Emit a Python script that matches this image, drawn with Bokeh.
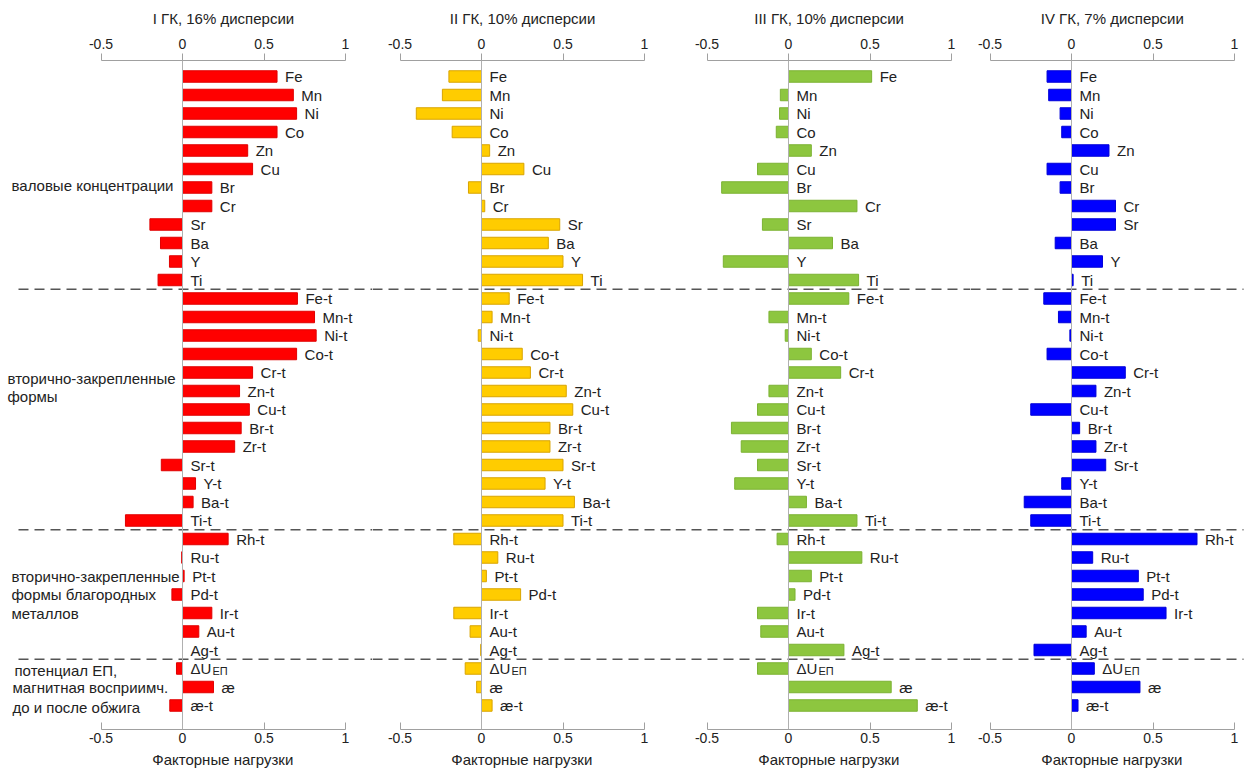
import numpy as np
from bokeh.plotting import figure
from bokeh.layouts import row
from bokeh.models import (Range1d, LinearAxis, FixedTicker, CustomJSTickFormatter,
                          Span, ColumnDataSource, Title)
from bokeh.core.properties import value
from bokeh.embed import file_html
from bokeh.resources import INLINE

# ---------------- data ----------------
categories = ["Fe", "Mn", "Ni", "Co", "Zn", "Cu", "Br", "Cr", "Sr", "Ba", "Y", "Ti",
              "Fe-t", "Mn-t", "Ni-t", "Co-t", "Cr-t", "Zn-t", "Cu-t", "Br-t", "Zr-t",
              "Sr-t", "Y-t", "Ba-t", "Ti-t",
              "Rh-t", "Ru-t", "Pt-t", "Pd-t", "Ir-t", "Au-t", "Ag-t",
              "ΔU", "æ", "æ-t"]
subscripts = {"ΔU": "ЕП"}
group_sizes = [12, 13, 7, 3]
group_labels = [["валовые концентрации"],
                ["вторично-закрепленные", "формы"],
                ["вторично-закрепленные", "формы благородных", "металлов"],
                [" потенциал ЕП,", "магнитная восприимч.", "до и после обжига"]]
titles = ["I ГК, 16% дисперсии", "II ГК, 10% дисперсии",
          "III ГК, 10% дисперсии", "IV ГК, 7% дисперсии"]
x_label = "Факторные нагрузки"
tick_values = [-0.5, 0, 0.5, 1]

loadings_1 = [0.58, 0.68, 0.70, 0.58, 0.40, 0.43, 0.18, 0.18, -0.20, -0.135, -0.08, -0.15,
              0.705, 0.81, 0.82, 0.70, 0.43, 0.35, 0.41, 0.36, 0.32, -0.13, 0.08, 0.065, -0.35,
              0.28, -0.005, 0.01, -0.065, 0.18, 0.10, 0.0,
              -0.037, 0.19, -0.078]
loadings_2 = [-0.20, -0.24, -0.40, -0.18, 0.05, 0.26, -0.08, 0.02, 0.48, 0.41, 0.50, 0.62,
              0.17, 0.065, -0.02, 0.25, 0.30, 0.52, 0.56, 0.42, 0.42, 0.50, 0.39, 0.57, 0.50,
              -0.17, 0.10, 0.03, 0.24, -0.17, -0.07, -0.005,
              -0.10, -0.03, 0.065]
loadings_3 = [0.51, -0.05, -0.055, -0.075, 0.14, -0.19, -0.41, 0.42, -0.16, 0.27, -0.40, 0.43,
              0.37, -0.12, -0.02, 0.14, 0.32, -0.12, -0.19, -0.35, -0.29, -0.19, -0.33, 0.11, 0.42,
              -0.07, 0.45, 0.14, 0.04, -0.19, -0.17, 0.34,
              -0.19, 0.63, 0.79]
loadings_4 = [-0.15, -0.14, -0.07, -0.06, 0.23, -0.15, -0.07, 0.27, 0.27, -0.10, 0.19, 0.01,
              -0.17, -0.08, -0.01, -0.15, 0.33, 0.15, -0.25, 0.05, 0.15, 0.21, -0.06, -0.29, -0.25,
              0.77, 0.13, 0.41, 0.44, 0.58, 0.09, -0.23,
              0.14, 0.42, 0.04]
loadings = [loadings_1, loadings_2, loadings_3, loadings_4]
fill_colors = ["#ff0000", "#ffcc00", "#8dc63f", "#0000ff"]
line_colors = ["#e00000", "#d9a400", "#7cb233", "#0000d8"]

# ---------------- layout constants ----------------
FONT = value("Liberation Sans")
PX = 163.0           # pixels per loading unit
ROW = 18.5           # pixels per row
zeros = [182, 481, 788, 1071]          # page x of zero in each panel
edges = [0, 372, 675, 970, 1245]       # page x of figure boundaries
title_widths = [141, 145, 150, 143]    # approx rendered widths (px) for centring
xlabel_width = 142
dash_start, dash_end = 18, 1243
frame_top = 60
frame_h = 669
y_top = -16.0 / ROW
y_bot = y_top + frame_h / ROW
rows = np.arange(len(categories))
seps = np.cumsum(group_sizes)[:-1] - 0.5
label_rows = [[5.9], [16.3, 17.3], [27.0, 28.0, 29.0], [32.1, 33.05, 34.1]]
label_offsets = [[11], [7], [11], [14, 12, 12]]

fmt = CustomJSTickFormatter(code="return tick.toString();")

figs = []
for k in range(4):
    w = edges[k + 1] - edges[k]
    x0 = (edges[k] - zeros[k]) / PX
    x1 = (edges[k + 1] - zeros[k]) / PX
    p = figure(frame_width=w, frame_height=frame_h,
               x_range=Range1d(x0, x1), y_range=Range1d(y_bot, y_top),
               output_backend="svg", toolbar_location=None,
               x_axis_location=None, y_axis_location=None,
               min_border=0, min_border_top=frame_top,
               outline_line_color=None,
               background_fill_color="white", border_fill_color="white")
    p.grid.visible = False

    for loc in ("above", "below"):
        ax = LinearAxis(ticker=FixedTicker(ticks=tick_values), formatter=fmt,
                        bounds=(-0.5, 1))
        ax.axis_line_color = "#a0a0a0"
        ax.major_tick_line_color = "#a0a0a0"
        ax.minor_tick_line_color = None
        ax.major_label_text_font = "Liberation Sans"
        ax.major_label_text_font_size = "14px"
        ax.major_label_text_color = "#222222"
        if loc == "above":
            ax.major_tick_out = 7
            ax.major_tick_in = 0
            ax.major_label_standoff = 5
        else:
            ax.major_tick_out = 0
            ax.major_tick_in = 7
            ax.major_label_standoff = 3
        p.add_layout(ax, loc)

    centre_px = zeros[k] + 0.25 * PX - edges[k]
    t_top = Title(text=titles[k], align="left", offset=centre_px - title_widths[k] / 2,
                  text_font="Liberation Sans", text_font_size="15px",
                  text_font_style="normal", text_color="#222222", standoff=14,
                  vertical_align="top")
    p.add_layout(t_top, "above")
    t_bot = Title(text=x_label, align="left", offset=centre_px - xlabel_width / 2,
                  text_font="Liberation Sans", text_font_size="15px",
                  text_font_style="normal", text_color="#222222", standoff=8,
                  vertical_align="middle")
    p.add_layout(t_bot, "below")

    p.add_layout(Span(location=0, dimension="height", line_color="#b0b0b0", line_width=1))

    vals = np.array(loadings[k])
    src = ColumnDataSource(dict(y=rows, v=vals, lx=np.maximum(vals, 0),
                                label=categories))
    p.hbar(y="y", left=0, right="v", height=0.62, source=src,
           fill_color=fill_colors[k], line_color=line_colors[k], line_width=1)
    p.text(x="lx", y="y", text="label", source=src, x_offset=8,
           text_baseline="middle", text_align="left", text_font=FONT,
           text_font_size="15px", text_color="#222222")
    # subscripts
    sub_idx = [i for i, c in enumerate(categories) if c in subscripts]
    p.text(x=[max(vals[i], 0) for i in sub_idx], y=[rows[i] for i in sub_idx],
           text=[subscripts[categories[i]] for i in sub_idx],
           x_offset=30, y_offset=2, text_baseline="middle", text_align="left",
           text_font=FONT, text_font_size="11px", text_color="#222222")

    # dashed separators
    xs = (dash_start - zeros[k]) / PX if k == 0 else x0
    xe = (dash_end - zeros[k]) / PX if k == 3 else x1
    p.segment(x0=[xs] * len(seps), x1=[xe] * len(seps), y0=seps, y1=seps,
              line_color="#555555", line_width=1.5, line_dash="10 6")

    if k == 0:
        for lines, ys, offs in zip(group_labels, label_rows, label_offsets):
            for j, (t, yy) in enumerate(zip(lines, ys)):
                off = offs[j] if j < len(offs) else offs[-1]
                p.text(x=[x0], y=[yy], text=[t], x_offset=off,
                       text_baseline="middle", text_align="left", text_font=FONT,
                       text_font_size="15px", text_color="#222222")
    figs.append(p)

layout = row(*figs, spacing=0)
open("out.html", "w").write(file_html(layout, INLINE))
